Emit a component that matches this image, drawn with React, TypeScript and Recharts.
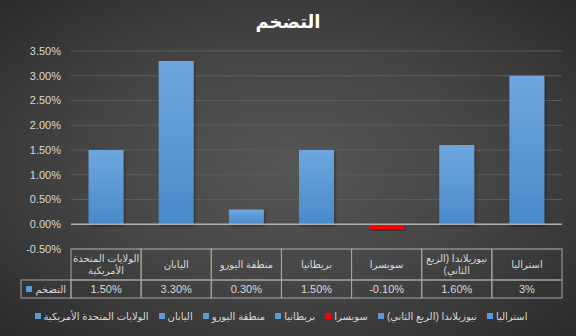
import React from 'react';
import {
  BarChart,
  Bar,
  Cell,
  XAxis,
  YAxis,
  CartesianGrid,
  ReferenceLine,
  Legend,
} from 'recharts';

const TITLE = 'التضخم';
const SERIES_NAME = 'التضخم';

const CATEGORIES = [
  'الولايات المتحدة الأمريكية',
  'اليابان',
  'منطقة اليورو',
  'بريطانيا',
  'سويسرا',
  'نيوزيلاندا (الربع الثاني)',
  'استراليا',
];

const INFLATION = [1.5, 3.3, 0.3, 1.5, -0.1, 1.6, 3];

const VALUE_LABELS = ['1.50%', '3.30%', '0.30%', '1.50%', '-0.10%', '1.60%', '3%'];

const Y_TICKS = [-0.5, 0, 0.5, 1, 1.5, 2, 2.5, 3, 3.5];

const TEXT = '#d9d9d9';
const BLUE = '#5b9bd5';
const RED = '#ff0000';
const TABLE_LINE = '#a6a6a6';

const data = CATEGORIES.map((name, i) => ({
  name,
  inflation: INFLATION[i],
}));

const colorFor = (v: number) => (v < 0 ? RED : BLUE);

// the x axis ticks draw the data table under the plot, one column per category
const TableTick = (props: any) => {
  const { x, y, payload } = props;
  const idx = CATEGORIES.indexOf(payload.value);
  const half = payload.offset || 35;
  const x0 = x - half;
  const w = half * 2;
  const headH = 31;
  const rowH = 18;
  return (
    <g>
      <rect x={x0} y={y} width={w} height={headH} fill="none" stroke={TABLE_LINE} />
      <rect x={x0} y={y + headH} width={w} height={rowH} fill="none" stroke={TABLE_LINE} />
      <foreignObject x={x0} y={y} width={w} height={headH}>
        <div
          style={{
            width: w,
            height: headH,
            display: 'flex',
            alignItems: 'center',
            justifyContent: 'center',
            textAlign: 'center',
            direction: 'rtl',
            color: TEXT,
            fontSize: 10,
            lineHeight: '12px',
          }}
        >
          {payload.value}
        </div>
      </foreignObject>
      <text
        x={x}
        y={y + headH + rowH / 2}
        textAnchor="middle"
        dominantBaseline="central"
        fill={TEXT}
        fontSize={11}
      >
        {VALUE_LABELS[idx]}
      </text>
      {idx === 0 && (
        <g>
          <rect x={x0 - 50} y={y + headH} width={50} height={rowH} fill="none" stroke={TABLE_LINE} />
          <rect x={x0 - 45} y={y + headH + 6} width={6} height={6} fill={BLUE} />
          <text
            x={x0 - 5}
            y={y + headH + rowH / 2}
            textAnchor="end"
            dominantBaseline="central"
            fill={TEXT}
            fontSize={10}
          >
            {SERIES_NAME}
          </text>
        </g>
      )}
    </g>
  );
};

const LegendContent = () => (
  <div
    style={{
      height: 20,
      display: 'flex',
      justifyContent: 'center',
      alignItems: 'center',
      gap: 10,
      color: TEXT,
      fontSize: 10,
    }}
  >
    {data.map((d) => (
      <span key={d.name} style={{ display: 'flex', alignItems: 'center', gap: 3 }}>
        <span style={{ width: 6, height: 6, background: colorFor(d.inflation), display: 'inline-block' }} />
        <span style={{ direction: 'rtl' }}>{d.name}</span>
      </span>
    ))}
  </div>
);

export default function App() {
  return (
    <div
      style={{
        position: 'absolute',
        left: 0,
        top: 0,
        width: 576,
        height: 336,
        background: 'radial-gradient(ellipse at 50% 50%, #565656 0%, #454545 50%, #2a2a2a 100%)',
        fontFamily: '"Liberation Sans", "DejaVu Sans", sans-serif',
      }}
    >
      <BarChart
        width={576}
        height={336}
        data={data}
        margin={{ top: 51, right: 14, bottom: 10, left: 0 }}
        barCategoryGap="25%"
      >
        <defs>
          <linearGradient id="barGrad" x1="0" y1="0" x2="0" y2="1">
            <stop offset="0%" stopColor="#6ea7de" />
            <stop offset="100%" stopColor="#4a89ca" />
          </linearGradient>
          <filter id="barShadow" x="-30%" y="-30%" width="160%" height="160%">
            <feDropShadow dx="1" dy="2" stdDeviation="1.5" floodColor="#000000" floodOpacity="0.4" />
          </filter>
        </defs>

        <text
          x={288}
          y={22}
          textAnchor="middle"
          dominantBaseline="central"
          fill="#ffffff"
          fontSize={18}
          fontWeight="bold"
        >
          {TITLE}
        </text>

        <CartesianGrid vertical={false} stroke="#5c5c5c" />
        <XAxis
          dataKey="name"
          interval={0}
          axisLine={false}
          tickLine={false}
          tickSize={0}
          tickMargin={0}
          height={57}
          tick={<TableTick />}
        />
        <YAxis
          domain={[-0.5, 3.5]}
          ticks={Y_TICKS}
          axisLine={false}
          tickLine={false}
          tickSize={0}
          tickMargin={10}
          width={71}
          tick={{ fill: TEXT, fontSize: 11 }}
          tickFormatter={(v: number) => `${v.toFixed(2)}%`}
        />
        <ReferenceLine y={0} stroke="#b0b0b0" strokeWidth={1.5} />
        <Bar dataKey="inflation" name={SERIES_NAME} isAnimationActive={false}>
          {data.map((d) => (
            <Cell
              key={d.name}
              fill={d.inflation < 0 ? RED : 'url(#barGrad)'}
              filter="url(#barShadow)"
            />
          ))}
        </Bar>
        <Legend verticalAlign="bottom" content={<LegendContent />} />
      </BarChart>
    </div>
  );
}
